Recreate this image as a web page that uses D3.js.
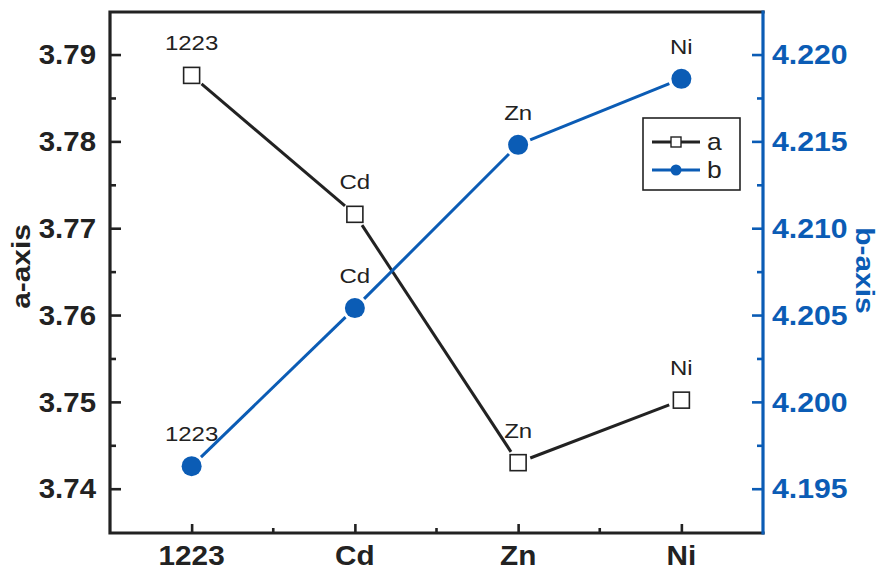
<!DOCTYPE html>
<html>
<head>
<meta charset="utf-8">
<script src="https://cdn.jsdelivr.net/npm/d3@7/dist/d3.min.js"></script>
<style>
  html, body { margin: 0; padding: 0; background: #fff; }
  svg { display: block; }
  text { font-family: "Liberation Sans", Arial, sans-serif; }
</style>
</head>
<body>
<svg id="chart" width="884" height="575"></svg>
<script>
// Lattice parameters for the pure 1223 phase and Cd / Zn / Ni substituted samples
const categories = ["1223", "Cd", "Zn", "Ni"];
const aValues = [3.7876, 3.7716, 3.7430, 3.7502];
const bValues = [4.1963, 4.2054, 4.2148, 4.2186];
const aTicks = [3.74, 3.75, 3.76, 3.77, 3.78, 3.79];
const bTicks = [4.195, 4.200, 4.205, 4.210, 4.215, 4.220];
const aTickLabels = ["3.74", "3.75", "3.76", "3.77", "3.78", "3.79"];
const bTickLabels = ["4.195", "4.200", "4.205", "4.210", "4.215", "4.220"];

const BLACK = "#222222";
const BLUE = "#0b5cb5";

const svg = d3.select("#chart");
const plot = { left: 110, right: 763, top: 12, bottom: 533 };

const x = d3.scalePoint().domain(categories).range([plot.left, plot.right]).padding(0.5);
const yA = d3.scaleLinear().domain([3.7349, 3.7949]).range([plot.bottom, plot.top]);
const yB = d3.scaleLinear().domain([4.19245, 4.22245]).range([plot.bottom, plot.top]);

// Minor ticks sit halfway between major ticks
const minorA = aTicks.map(v => v + 0.005).filter(v => yA(v) > plot.top + 3);
const minorB = bTicks.map(v => v + 0.0025).filter(v => yB(v) > plot.top + 3);
const minorX = categories.slice(0, -1).map((c, i) => (x(c) + x(categories[i + 1])) / 2);

// Axis helper: inward ticks, no domain line (the frame is drawn separately)
function tickAxis(axisFn, scale, values, len, color, xPos, yPos) {
  const g = svg.append("g").attr("transform", `translate(${xPos},${yPos})`)
    .call(axisFn(scale).tickValues(values).tickSizeInner(-len).tickSizeOuter(0).tickFormat(""));
  g.select(".domain").remove();
  g.selectAll(".tick line").attr("stroke", color).attr("stroke-width", 2.6);
  return g;
}

tickAxis(d3.axisLeft, yA, minorA, 6, BLACK, plot.left, 0);
tickAxis(d3.axisLeft, yA, aTicks, 11, BLACK, plot.left, 0);
tickAxis(d3.axisRight, yB, minorB, 6, BLUE, plot.right, 0);
tickAxis(d3.axisRight, yB, bTicks, 11, BLUE, plot.right, 0);
tickAxis(d3.axisBottom, x, categories, 9, BLACK, 0, plot.bottom);
svg.append("g").selectAll("line").data(minorX).join("line")
  .attr("x1", d => d).attr("x2", d => d)
  .attr("y1", plot.bottom).attr("y2", plot.bottom - 5)
  .attr("stroke", BLACK).attr("stroke-width", 2.6);

// Tick labels
svg.append("g").selectAll("text").data(aTicks).join("text")
  .attr("transform", d => `translate(${plot.left - 14},${yA(d)}) scale(1.09,1)`)
  .attr("dy", "0.36em").attr("text-anchor", "end")
  .attr("font-size", 27).attr("font-weight", "bold").attr("fill", BLACK)
  .text((d, i) => aTickLabels[i]);
svg.append("g").selectAll("text").data(bTicks).join("text")
  .attr("transform", d => `translate(${plot.right + 9},${yB(d)}) scale(1.12,1)`)
  .attr("dy", "0.36em").attr("text-anchor", "start")
  .attr("font-size", 27).attr("font-weight", "bold").attr("fill", BLUE)
  .text((d, i) => bTickLabels[i]);
svg.append("g").selectAll("text").data(categories).join("text")
  .attr("transform", d => `translate(${x(d)},${plot.bottom + 32}) scale(1.1,1)`)
  .attr("text-anchor", "middle")
  .attr("font-size", 27).attr("font-weight", "bold").attr("fill", BLACK)
  .text(d => d);

// Frame
svg.append("path")
  .attr("d", `M${plot.right},${plot.top} H${plot.left} V${plot.bottom} H${plot.right}`)
  .attr("fill", "none").attr("stroke", BLACK).attr("stroke-width", 3.2)
  .attr("stroke-linecap", "square");
svg.append("line")
  .attr("x1", plot.right).attr("x2", plot.right)
  .attr("y1", plot.top - 1.5).attr("y2", plot.bottom + 1.5)
  .attr("stroke", BLUE).attr("stroke-width", 3.2);

// Axis titles
svg.append("text")
  .attr("transform", `translate(30,${(plot.top + plot.bottom) / 2 - 6}) rotate(-90) scale(1.15,1)`)
  .attr("text-anchor", "middle").attr("font-size", 26).attr("font-weight", "bold")
  .attr("fill", BLACK).text("a-axis");
svg.append("text")
  .attr("transform", `translate(856,${(plot.top + plot.bottom) / 2 - 2}) rotate(90) scale(1.15,1)`)
  .attr("text-anchor", "middle").attr("font-size", 26).attr("font-weight", "bold")
  .attr("fill", BLUE).text("b-axis");

// Connecting segments, trimmed short of the markers
function segments(values, y) {
  const pts = values.map((v, i) => [x(categories[i]), y(v)]);
  return pts.slice(0, -1).map((p, i) => {
    const q = pts[i + 1];
    const dx = q[0] - p[0], dy = q[1] - p[1];
    const len = Math.hypot(dx, dy);
    const gap = 13;
    return {
      x1: p[0] + dx / len * gap, y1: p[1] + dy / len * gap,
      x2: q[0] - dx / len * gap, y2: q[1] - dy / len * gap
    };
  });
}
svg.append("g").selectAll("line").data(segments(aValues, yA)).join("line")
  .attr("x1", d => d.x1).attr("y1", d => d.y1).attr("x2", d => d.x2).attr("y2", d => d.y2)
  .attr("stroke", BLACK).attr("stroke-width", 3);
svg.append("g").selectAll("line").data(segments(bValues, yB)).join("line")
  .attr("x1", d => d.x1).attr("y1", d => d.y1).attr("x2", d => d.x2).attr("y2", d => d.y2)
  .attr("stroke", BLUE).attr("stroke-width", 3);

// Markers
const sq = 16;
svg.append("g").selectAll("rect").data(aValues).join("rect")
  .attr("x", (d, i) => x(categories[i]) - sq / 2).attr("y", d => yA(d) - sq / 2)
  .attr("width", sq).attr("height", sq)
  .attr("fill", "#fff").attr("stroke", BLACK).attr("stroke-width", 1.6);
svg.append("g").selectAll("circle").data(bValues).join("circle")
  .attr("cx", (d, i) => x(categories[i])).attr("cy", d => yB(d)).attr("r", 10)
  .attr("fill", BLUE);

// Point labels
function pointLabels(values, y) {
  svg.append("g").selectAll("text").data(values).join("text")
    .attr("transform", (d, i) => `translate(${x(categories[i])},${y(d) - 25}) scale(1.2,1)`)
    .attr("text-anchor", "middle").attr("font-size", 20).attr("fill", BLACK)
    .text((d, i) => categories[i]);
}
pointLabels(aValues, yA);
pointLabels(bValues, yB);

// Legend
const lg = svg.append("g").attr("transform", "translate(643,118)");
lg.append("rect").attr("width", 97).attr("height", 72)
  .attr("fill", "#fff").attr("stroke", BLACK).attr("stroke-width", 1.6);
const legendRows = [
  { name: "a", color: BLACK, y: 24, marker: "square" },
  { name: "b", color: BLUE, y: 52, marker: "circle" }
];
legendRows.forEach(r => {
  lg.append("line").attr("x1", 9).attr("x2", 57).attr("y1", r.y).attr("y2", r.y)
    .attr("stroke", r.color).attr("stroke-width", 3);
  if (r.marker === "square") {
    lg.append("rect").attr("x", 28).attr("y", r.y - 5).attr("width", 10).attr("height", 10)
      .attr("fill", "#fff").attr("stroke", r.color).attr("stroke-width", 1.4);
  } else {
    lg.append("circle").attr("cx", 33).attr("cy", r.y).attr("r", 5.5).attr("fill", r.color);
  }
  lg.append("text").attr("transform", `translate(64,${r.y + 8}) scale(1.15,1)`)
    .attr("font-size", 23).attr("fill", BLACK).text(r.name);
});
</script>
</body>
</html>
